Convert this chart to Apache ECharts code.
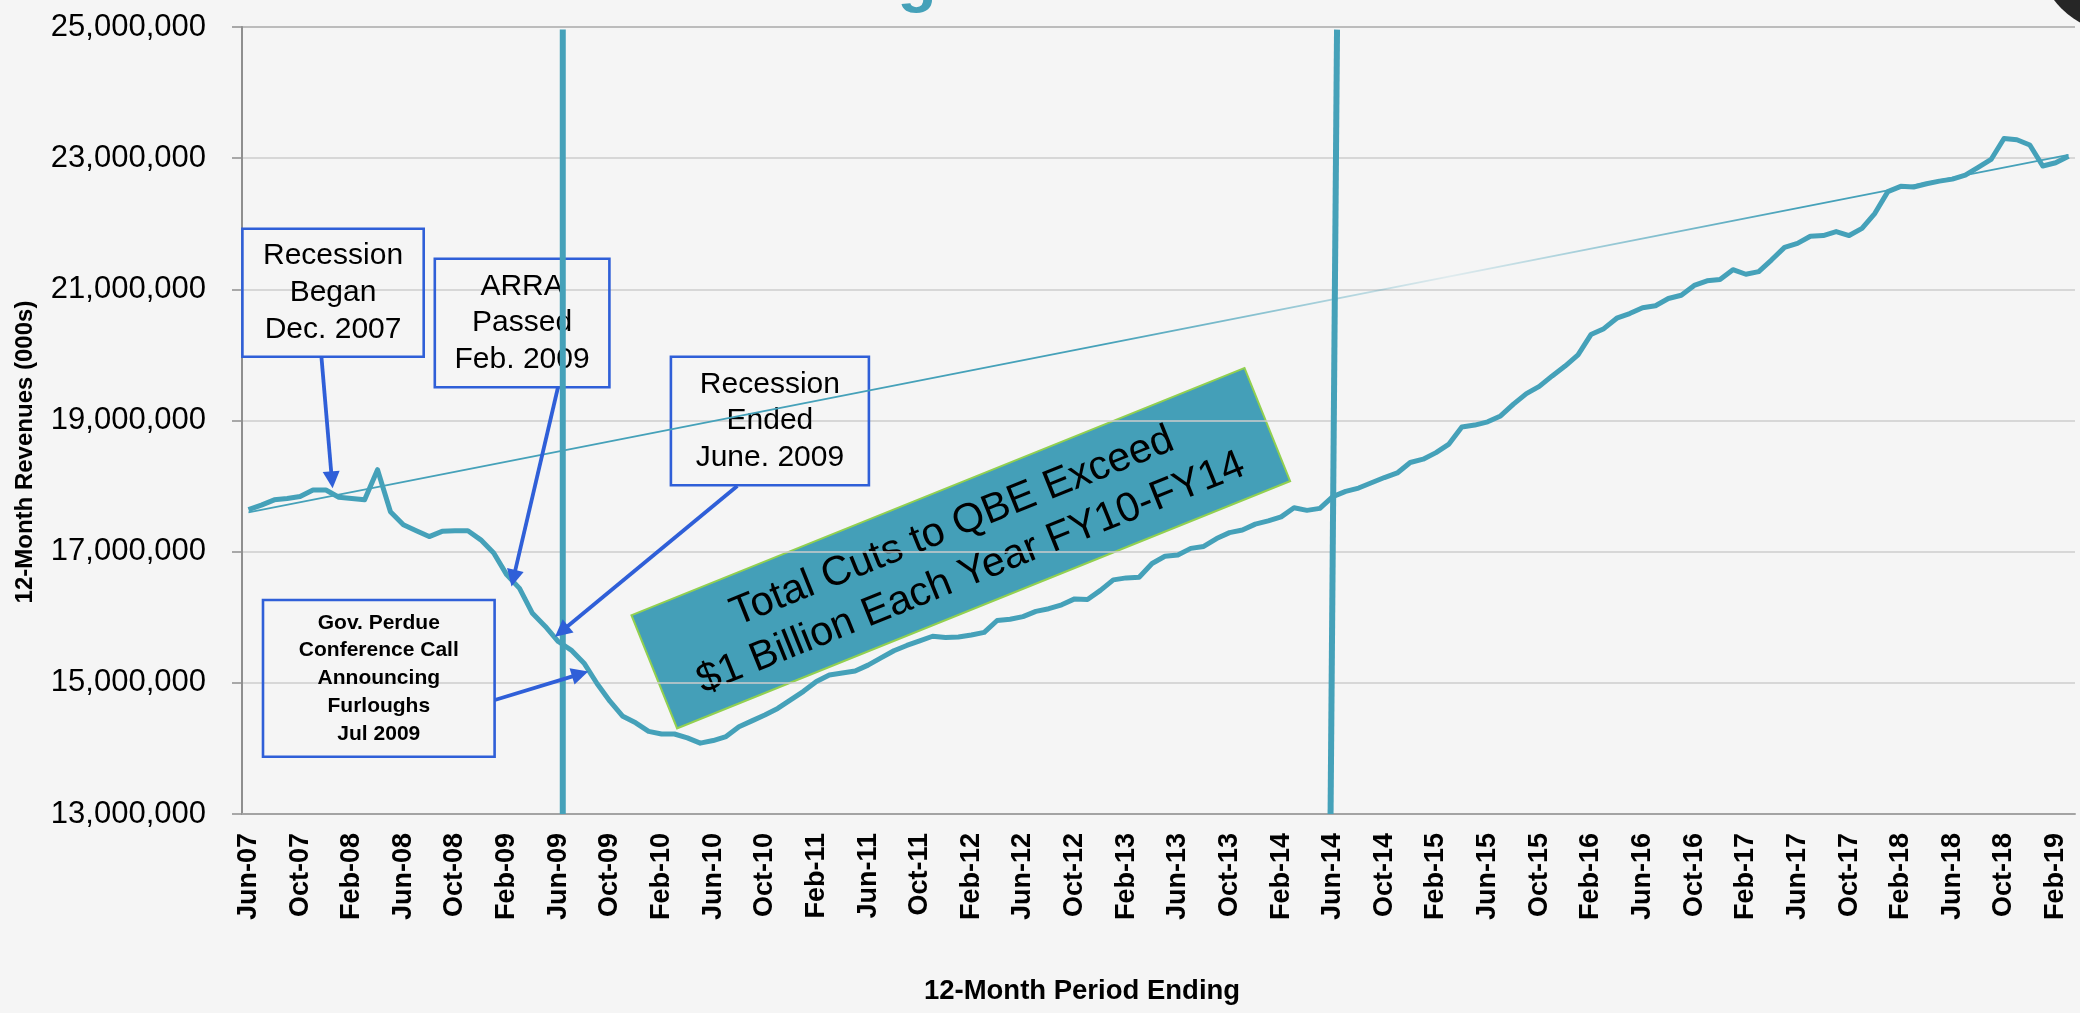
<!DOCTYPE html>
<html>
<head>
<meta charset="utf-8">
<script src="https://cdn.jsdelivr.net/npm/echarts@6/dist/echarts.min.js"></script>
<style>
  html, body { margin: 0; padding: 0; background: #f5f5f5; }
  #chart { width: 2080px; height: 1013px; }
</style>
</head>
<body>
<div id="chart"></div>
<script>
// ---------------- DATA ----------------
const monthNames = ['Jan','Feb','Mar','Apr','May','Jun','Jul','Aug','Sep','Oct','Nov','Dec'];
const firstMonth = 5;   // June
const firstYear = 7;    // 2007
const monthCount = 142; // Jun-07 .. Mar-19

// 12-month revenues (000s), Jun-07 .. Mar-19
const revenue = [
  17640000, 17710000, 17790000, 17810000, 17840000, 17940000, 17940000, 17830000, 17810000, 17790000,
  18250000, 17610000, 17410000, 17320000, 17230000, 17310000, 17320000, 17320000, 17180000, 16980000,
  16650000, 16440000, 16060000, 15860000, 15630000, 15500000, 15300000, 14990000, 14720000, 14490000,
  14390000, 14260000, 14220000, 14220000, 14160000, 14080000, 14120000, 14180000, 14330000, 14420000,
  14510000, 14610000, 14740000, 14870000, 15020000, 15120000, 15150000, 15180000, 15270000, 15380000,
  15490000, 15570000, 15640000, 15710000, 15690000, 15700000, 15730000, 15770000, 15950000, 15970000,
  16010000, 16090000, 16130000, 16190000, 16280000, 16270000, 16410000, 16570000, 16600000, 16610000,
  16820000, 16930000, 16950000, 17050000, 17080000, 17200000, 17290000, 17330000, 17420000, 17470000,
  17530000, 17670000, 17630000, 17660000, 17840000, 17920000, 17970000, 18050000, 18130000, 18200000,
  18360000, 18410000, 18510000, 18640000, 18900000, 18930000, 18980000, 19070000, 19250000, 19410000,
  19520000, 19680000, 19830000, 20000000, 20310000, 20400000, 20560000, 20630000, 20720000, 20750000,
  20860000, 20910000, 21060000, 21130000, 21150000, 21300000, 21230000, 21270000, 21450000, 21640000,
  21700000, 21810000, 21820000, 21880000, 21820000, 21930000, 22160000, 22490000, 22570000, 22560000,
  22610000, 22650000, 22680000, 22740000, 22860000, 22980000, 23300000, 23280000, 23200000, 22880000,
  22930000, 23030000
];

// linear trend line end values (000s)
const trendEnds = [17600000, 23050000];

// event lines: position in months from start of Jun-07 (bottom, top)
const eventLines = [
  { bottom: 24.85, top: 24.85 },   // Jun/Jul 2009
  { bottom: 84.33, top: 84.83 }    // Jun 2014
];

// y axis ticks
const yMin = 13000000, yMax = 25000000, yStep = 2000000;
const yLineTop = 24960000;

// category labels
const categories = [];
for (let k = 0; k < monthCount; k++) {
  const m = (firstMonth + k) % 12;
  const yr = firstYear + Math.floor((firstMonth + k) / 12);
  categories.push(monthNames[m] + '-' + String(yr).padStart(2, '0'));
}

// ---------------- STYLE ----------------
const TEAL = '#45a1b9';
const BLUE = '#2f5fd8';
const FONT = "'Liberation Sans', Arial, sans-serif";

const trendData = revenue.map((v, i) => i === 0 ? trendEnds[0] : (i === revenue.length - 1 ? trendEnds[1] : null));

const eventSeries = eventLines.map(e => ({
  type: 'line',
  xAxisIndex: 1,
  yAxisIndex: 0,
  data: [[e.bottom, yMin], [e.top, yLineTop]],
  symbol: 'none',
  silent: true,
  z: 4,
  lineStyle: { color: TEAL, width: 6 }
}));

function arrow(x1, y1, x2, y2) {
  const dx = x2 - x1, dy = y2 - y1, L = Math.hypot(dx, dy);
  const ux = dx / L, uy = dy / L;
  const hl = 17, hw = 8.5;
  const bx = x2 - ux * hl, by = y2 - uy * hl;
  return [
    { type: 'line', z: 20, shape: { x1: x1, y1: y1, x2: bx + ux * 3, y2: by + uy * 3 },
      style: { stroke: BLUE, lineWidth: 3.8 } },
    { type: 'polygon', z: 20, shape: { points: [[x2, y2], [bx - uy * hw, by + ux * hw], [bx + uy * hw, by - ux * hw]] },
      style: { fill: BLUE } }
  ];
}

function box(x1, y1, x2, y2, text, font, lineHeight) {
  return [
    { type: 'rect', z: 1, shape: { x: x1, y: y1, width: x2 - x1, height: y2 - y1 },
      style: { fill: 'rgba(0,0,0,0)', stroke: BLUE, lineWidth: 2.6 } },
    { type: 'text', z: 1, x: (x1 + x2) / 2, y: (y1 + y2) / 2,
      style: { text: text, font: font, fill: '#000', lineHeight: lineHeight,
               align: 'center', verticalAlign: 'middle', textAlign: 'center', textVerticalAlign: 'middle' } }
  ];
}

const graphics = [].concat(
  box(242.4, 228.7, 423.7, 356.7, 'Recession\nBegan\nDec. 2007', '30px ' + FONT, 37),
  box(434.8, 258.7, 609.4, 387.3, 'ARRA\nPassed\nFeb. 2009', '30px ' + FONT, 36.7),
  box(670.9, 356.7, 868.9, 485.3, 'Recession\nEnded\nJune. 2009', '30px ' + FONT, 36.7),
  box(263, 600, 494.6, 756.7, 'Gov. Perdue\nConference Call\nAnnouncing\nFurloughs\nJul 2009', 'bold 21px ' + FONT, 27.7),
  arrow(321.4, 356.7, 332.6, 488.3),
  arrow(558, 387.3, 511.5, 586.5),
  arrow(737.3, 486, 555, 636.7),
  arrow(494.8, 700, 588.3, 671.5),
  [{
    type: 'group', x: 960.8, y: 548.2, rotation: 0.3833, z: 1,
    children: [
      { type: 'rect', shape: { x: -330.5, y: -61, width: 661, height: 122 },
        style: { fill: '#449fb8', stroke: '#92d050', lineWidth: 2 } },
      { type: 'text', x: 0, y: 2,
        style: { text: 'Total Cuts to QBE Exceed\n$1 Billion Each Year FY10-FY14', font: '41px ' + FONT,
                 fill: '#000', lineHeight: 50, align: 'center', verticalAlign: 'middle',
                 textAlign: 'center', textVerticalAlign: 'middle' } }
    ]
  }],
  [
    { type: 'text', x: 25, y: 452, rotation: Math.PI / 2,
      style: { text: '12-Month Revenues (000s)', font: 'bold 24px ' + FONT, fill: '#000',
               align: 'center', verticalAlign: 'middle', textAlign: 'center', textVerticalAlign: 'middle' } },
    { type: 'text', x: 1082, y: 991,
      style: { text: '12-Month Period Ending', font: 'bold 27.5px ' + FONT, fill: '#000',
               align: 'center', verticalAlign: 'middle', textAlign: 'center', textVerticalAlign: 'middle' } },
    { type: 'text', x: 917, y: 14,
      style: { text: 'g', font: 'bold 64px ' + FONT, fill: TEAL,
               align: 'center', verticalAlign: 'bottom', textAlign: 'center', textVerticalAlign: 'bottom' } },
    { type: 'circle', shape: { cx: 2118, cy: -48, r: 80 }, style: { fill: '#262626' } }
  ]
);

const splitColors = [];
for (let v = yMin; v <= yMax; v += yStep) splitColors.push(v === yMax ? '#a9a9a9' : '#cdcdcd');

const chart = echarts.init(document.getElementById('chart'), null, { renderer: 'canvas' });
chart.setOption({
  backgroundColor: '#f5f5f5',
  animation: false,
  grid: { left: 242, right: 5, top: 27, bottom: 199 },
  xAxis: [
    {
      type: 'category',
      data: categories,
      boundaryGap: true,
      axisLine: { lineStyle: { color: '#a3a3a3', width: 2 } },
      axisTick: { interval: 3, length: 9, lineStyle: { color: '#a3a3a3', width: 1.5 } },
      axisLabel: { interval: 3, rotate: 90, margin: 19, color: '#000', fontFamily: FONT,
                   fontWeight: 'bold', fontSize: 27 },
      splitLine: { show: false }
    },
    { type: 'value', min: 0, max: monthCount, show: false }
  ],
  yAxis: {
    type: 'value',
    min: yMin, max: yMax, interval: yStep,
    axisLine: { show: true, lineStyle: { color: '#8f8f8f', width: 2 } },
    axisTick: { show: true, length: 10, lineStyle: { color: '#8f8f8f', width: 1.5 } },
    axisLabel: { margin: 36, color: '#000', fontFamily: FONT, fontSize: 31,
                 formatter: v => v.toLocaleString('en-US') },
    splitLine: { show: true, lineStyle: { color: splitColors, width: 1.5 } }
  },
  series: [
    {
      type: 'line',
      data: revenue,
      symbol: 'none',
      z: 3,
      lineStyle: { color: TEAL, width: 5, join: 'round' }
    },
    {
      type: 'line',
      data: trendData,
      connectNulls: true,
      symbol: 'none',
      z: 5,
      lineStyle: {
        width: 1.8,
        color: {
          type: 'linear', x: 0, y: 0, x2: 1, y2: 0,
          colorStops: [
            { offset: 0, color: 'rgba(69,161,185,1)' },
            { offset: 0.47, color: 'rgba(69,161,185,1)' },
            { offset: 0.66, color: 'rgba(69,161,185,0.12)' },
            { offset: 0.85, color: 'rgba(69,161,185,1)' },
            { offset: 1, color: 'rgba(69,161,185,1)' }
          ]
        }
      }
    }
  ].concat(eventSeries),
  graphic: { elements: graphics }
});
</script>
</body>
</html>
